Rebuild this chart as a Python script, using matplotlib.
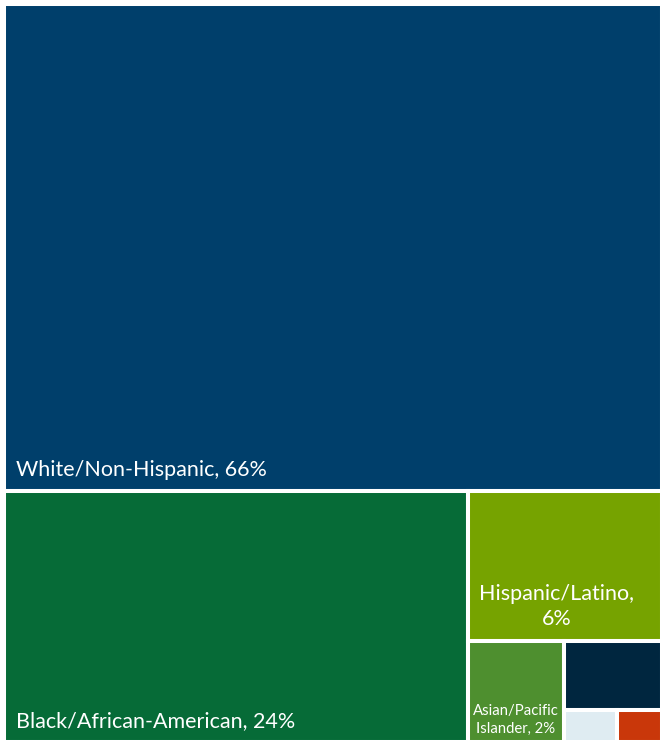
import matplotlib
matplotlib.use("Agg")
import matplotlib.pyplot as plt
from matplotlib.patches import Rectangle

# share of population by group (largest first)
groups = [
    "White/Non-Hispanic",
    "Black/African-American",
    "Hispanic/Latino",
    "Asian/Pacific Islander",
    "Two or More Races",
    "American Indian/Alaska Native",
    "Other",
]
shares = [66, 24, 6, 2, 1.4, 0.35, 0.3]
labels = [
    "White/Non-Hispanic, 66%",
    "Black/African-American, 24%",
    "Hispanic/Latino,\n6%",
    "Asian/Pacific\nIslander, 2%",
    "",
    "",
    "",
]
colors = ["#003F6B", "#066B37", "#76A300", "#4E8F2F", "#00263F", "#DFECF2", "#C9370A"]

plt.rcParams["font.family"] = ["Lato", "DejaVu Sans"]


def worst(row, side):
    s = sum(row)
    return max(max(side * side * r / (s * s), s * s / (side * side * r)) for r in row)


def squarify(values, x, y, dx, dy):
    total = sum(values)
    areas = [v * dx * dy / total for v in values]
    rects = []
    while areas:
        side = min(dx, dy)
        row = [areas[0]]
        i = 1
        while i < len(areas) and worst(row + [areas[i]], side) <= worst(row, side):
            row.append(areas[i])
            i += 1
        s = sum(row)
        if dx >= dy:
            rw = s / dy
            yy = y
            for a in row:
                h = a / rw
                rects.append((x, yy, rw, h))
                yy += h
            x += rw
            dx -= rw
        else:
            rh = s / dx
            xx = x
            for a in row:
                ww = a / rh
                rects.append((xx, y, ww, rh))
                xx += ww
            y += rh
            dy -= rh
        areas = areas[i:]
    return rects


W, H = 658, 738
fig = plt.figure(figsize=(6.6, 7.4), dpi=100)
ax = fig.add_axes([4 / 660, -2 / 740, W / 660, H / 740])
ax.set_xlim(0, W)
ax.set_ylim(H, 0)
ax.axis("off")

rects = squarify(shares, 0, 0, W, H)
for (x, y, w, h), c, lab in zip(rects, colors, labels):
    ax.add_patch(Rectangle((x, y), w, h, facecolor=c, edgecolor="white", linewidth=2.9))
    if not lab:
        continue
    if "\n" not in lab:
        ax.text(x + 12, y + h - 15, lab, color="white", fontsize=15.5,
                ha="left", va="baseline")
    elif w > 150:
        ax.text(x + 89, y + h - 16, lab, color="white", fontsize=15.5,
                ha="center", va="baseline", multialignment="center", linespacing=1.3)
    else:
        ax.text(x + w / 2, y + h - 9, lab, color="white", fontsize=10.7,
                ha="center", va="baseline", multialignment="center", linespacing=1.35)

fig.savefig("out.png", dpi=100)
